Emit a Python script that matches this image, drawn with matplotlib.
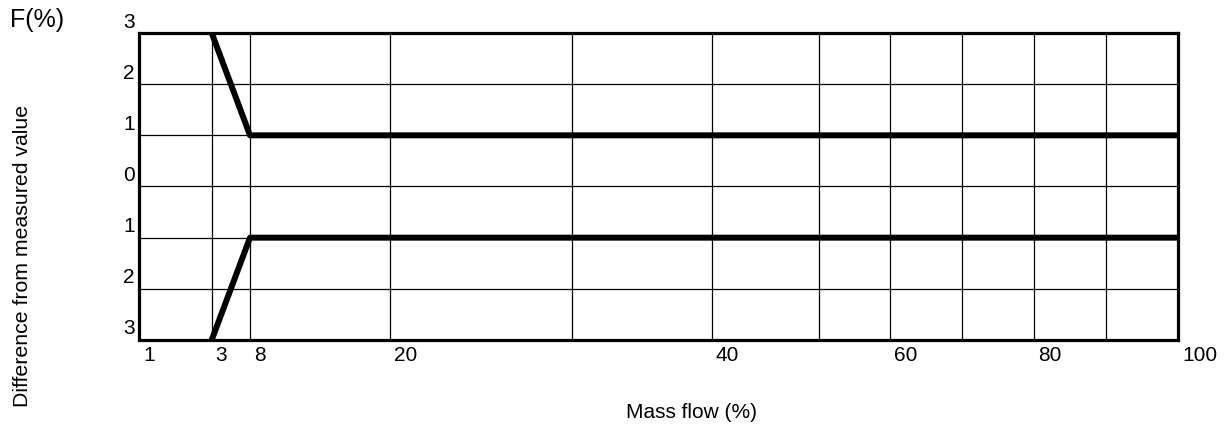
import numpy as np
import matplotlib
matplotlib.use('Agg')
import matplotlib.pyplot as plt
from matplotlib.transforms import ScaledTranslation

plt.rcParams['font.family'] = ['Liberation Sans', 'DejaVu Sans']

# mass flow values where the vertical grid lines sit
grid_flow = [1, 3, 8, 20, 30, 40, 50, 60, 70, 80, 90, 100]
grid_labels = ['1', '3', '8', '20', '', '40', '', '60', '', '80', '', '100']

# error band (upper / lower limit)
flow = [3, 8, 100]
upper = [3, 1, 1]
lower = [-3, -1, -1]

y_ticks = [3, 2, 1, 0, -1, -2, -3]
y_labels = ['3', '2', '1', '0', '1', '2', '3']

# the chart uses a hand drawn, non-uniform x scale
scale_pos = [0, 72.7, 111, 251, 433, 573, 680, 751, 823, 895, 967, 1039]

def fwd(x):
    return np.interp(x, grid_flow, scale_pos)

def inv(p):
    return np.interp(p, scale_pos, grid_flow)

fig = plt.figure(figsize=(12.28, 4.28), dpi=100)
ax = fig.add_axes([139/1228, 88/428, 1039/1228, 307/428])
ax.set_xscale('function', functions=(fwd, inv))

ax.plot(flow, upper, color='black', lw=4.3, solid_capstyle='butt', zorder=3)
ax.plot(flow, lower, color='black', lw=4.3, solid_capstyle='butt', zorder=3)

ax.set_xlim(1, 100)
ax.set_ylim(-3, 3)
ax.set_xticks(grid_flow)
ax.set_xticklabels(grid_labels, fontsize=15)
ax.set_yticks(y_ticks)
ax.set_yticklabels(y_labels, fontsize=15)
ax.tick_params(length=0)
ax.tick_params(axis='x', pad=4.5)
ax.tick_params(axis='y', pad=3)
ax.grid(True, color='black', lw=0.9)
for s in ax.spines.values():
    s.set_linewidth(2.3)
    s.set_zorder(4)

for lab in ax.get_xticklabels():
    lab.set_ha('left')
    lab.set_transform(lab.get_transform() + ScaledTranslation(4/100, 0, fig.dpi_scale_trans))
for lab in ax.get_yticklabels():
    lab.set_transform(lab.get_transform() + ScaledTranslation(0, 13/100, fig.dpi_scale_trans))

fig.text(10/1228, 1 - 20/428, 'F(%)', fontsize=18, va='center', ha='left')
fig.text(23/1228, 1 - 256/428, 'Difference from measured value', fontsize=15.3,
         rotation=90, va='center', ha='center')
fig.text(692/1228, 1 - 412/428, 'Mass flow (%)', fontsize=15, va='center', ha='center')

fig.savefig('out.png', dpi=100)
